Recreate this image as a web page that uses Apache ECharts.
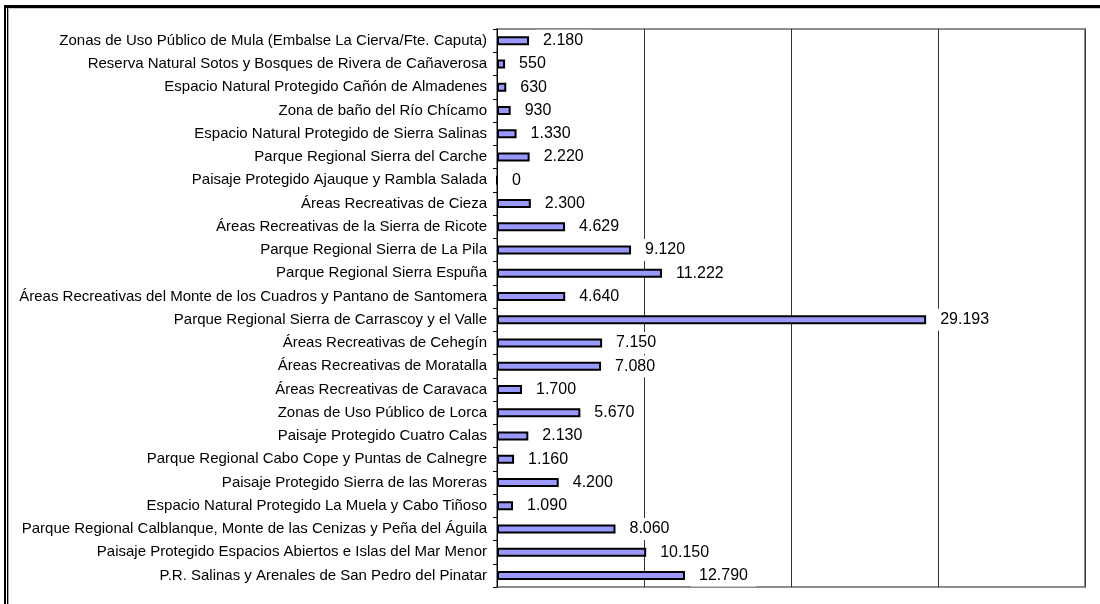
<!DOCTYPE html>
<html>
<head>
<meta charset="utf-8">
<script src="https://cdn.jsdelivr.net/npm/echarts@6/dist/echarts.min.js"></script>
<style>
  html, body { margin: 0; padding: 0; background: #fff; }
  #chart { width: 1100px; height: 604px; }
</style>
</head>
<body>
<div id="chart"></div>
<script>
// categories, top to bottom as in the picture
var categories = [
  'Zonas de Uso Público de Mula (Embalse La Cierva/Fte. Caputa)',
  'Reserva Natural Sotos y Bosques de Rivera de Cañaverosa',
  'Espacio Natural Protegido Cañón de Almadenes',
  'Zona de baño del Río Chícamo',
  'Espacio Natural Protegido de Sierra Salinas',
  'Parque Regional Sierra del Carche',
  'Paisaje Protegido Ajauque y Rambla Salada',
  'Áreas Recreativas de Cieza',
  'Áreas Recreativas de la Sierra de Ricote',
  'Parque Regional Sierra de La Pila',
  'Parque Regional Sierra Espuña',
  'Áreas Recreativas del Monte de los Cuadros y Pantano de Santomera',
  'Parque Regional Sierra de Carrascoy y el Valle',
  'Áreas Recreativas de Cehegín',
  'Áreas Recreativas de Moratalla',
  'Áreas Recreativas de Caravaca',
  'Zonas de Uso Público de Lorca',
  'Paisaje Protegido Cuatro Calas',
  'Parque Regional Cabo Cope y Puntas de Calnegre',
  'Paisaje Protegido Sierra de las Moreras',
  'Espacio Natural Protegido La Muela y Cabo Tiñoso',
  'Parque Regional Calblanque, Monte de las Cenizas y Peña del Águila',
  'Paisaje Protegido Espacios Abiertos e Islas del Mar Menor',
  'P.R. Salinas y Arenales de San Pedro del Pinatar'
];

var visitors = [
  2180, 550, 630, 930, 1330, 2220, 0, 2300, 4629, 9120, 11222, 4640,
  29193, 7150, 7080, 1700, 5670, 2130, 1160, 4200, 1090, 8060, 10150, 12790
];

var axisMin = 0;
var axisMax = 40000;
var axisStep = 10000;

function fmt(v) {
  return String(v).replace(/\B(?=(\d{3})+(?!\d))/g, '.');
}

var chart = echarts.init(document.getElementById('chart'));

var option = {
  backgroundColor: '#fff',
  animation: false,
  textStyle: { fontFamily: '"Liberation Sans", Arial, sans-serif' },
  grid: {
    left: 497,
    right: 15,
    top: 29,
    bottom: 17,
    show: true,
    borderColor: '#8c8c8c',
    borderWidth: 2,
    backgroundColor: 'transparent'
  },
  xAxis: {
    type: 'value',
    min: axisMin,
    max: axisMax,
    interval: axisStep,
    axisLabel: { show: false },
    axisTick: { show: false },
    axisLine: { show: false },
    splitLine: { show: true, lineStyle: { color: '#333', width: 1 } }
  },
  yAxis: {
    type: 'category',
    data: categories,
    inverse: true,
    axisLine: { show: true, lineStyle: { color: '#000', width: 1 } },
    axisTick: { show: true, length: 4, lineStyle: { color: '#000' } },
    axisLabel: {
      color: '#000',
      fontSize: 15,
      margin: 10,
      interval: 0
    },
    splitLine: { show: false }
  },
  series: [{
    type: 'bar',
    data: visitors,
    barWidth: 9,
    itemStyle: {
      color: '#9999ff',
      borderColor: '#000',
      borderWidth: 2
    },
    label: {
      show: true,
      position: 'right',
      distance: 6,
      color: '#000',
      fontSize: 16,
      backgroundColor: '#fff',
      padding: [3, 8, 3, 8],
      formatter: function (p) { return fmt(p.value); }
    }
  }],
  graphic: [
    { type: 'rect', shape: { x: 4, y: 5, width: 1096, height: 3 }, style: { fill: '#000' }, silent: true },
    { type: 'rect', shape: { x: 4, y: 5, width: 2, height: 599 }, style: { fill: '#000' }, silent: true },
    { type: 'rect', shape: { x: 7, y: 5, width: 1, height: 599 }, style: { fill: '#000' }, silent: true },
    { type: 'rect', shape: { x: 8, y: 8, width: 1, height: 596 }, style: { fill: '#aaa' }, silent: true },
    { type: 'rect', shape: { x: 8, y: 8, width: 1092, height: 1 }, style: { fill: '#ccc' }, silent: true }
  ]
};

chart.setOption(option);
</script>
</body>
</html>
